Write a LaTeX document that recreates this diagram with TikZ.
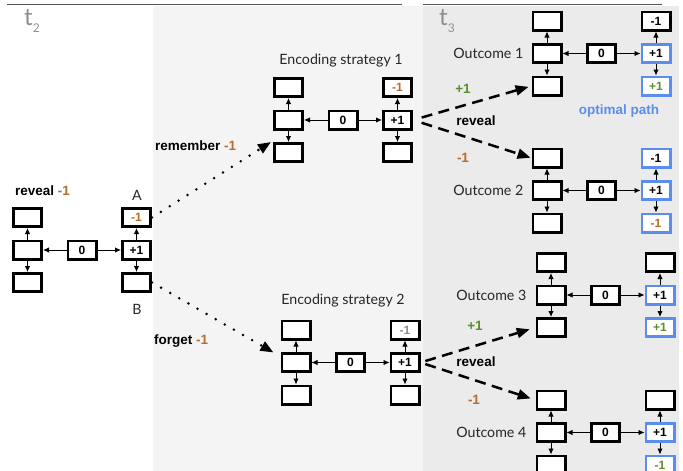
\documentclass[tikz,border=0pt]{standalone}
\usepackage{fontspec}
\setmainfont{Liberation Sans}
\newfontfamily\lightfont{Lato}
\usetikzlibrary{arrows.meta,calc}
\definecolor{orng}{HTML}{B86B2A}
\definecolor{grn}{HTML}{5A8F2A}
\definecolor{blu}{HTML}{5B8DEE}
\definecolor{bgA}{HTML}{F4F4F4}
\definecolor{bgB}{HTML}{EBEBEB}
\definecolor{tgray}{HTML}{8E8E8E}
\definecolor{rule}{HTML}{555555}
\tikzset{
 cell/.style={draw=black, line width=2.7pt, fill=white, minimum width=28.3pt, minimum height=18.3pt, inner sep=0pt, font=\fontsize{12}{12}\selectfont\bfseries},
 bluecell/.style={cell, draw=blu},
 link/.style={line width=0.9pt, -{Latex[length=6pt,width=5.5pt]}},
 bigtip/.style={-{Triangle[length=13pt,width=10pt]}},
 dotline/.style={bigtip, line width=2.8pt, line cap=round, dash pattern=on 0pt off 10.5pt},
 dashline/.style={bigtip, line width=2.5pt, dash pattern=on 11pt off 6.5pt},
 lbl/.style={font=\fontsize{13.5}{13.5}\selectfont\bfseries, inner sep=0pt},
 soft/.style={font=\lightfont\fontsize{14.2}{14.2}\selectfont, text=black!85, inner sep=0pt},
 tlabel/.style={font=\lightfont, text=tgray, inner sep=0pt, anchor=base west},
}
\newcommand{\mygrid}[8]{%
 \node[cell] (#1ml) at (#2,#3) {};
 \node[cell] (#1tl) at (#2,#3-32.5) {};
 \node[cell] (#1bl) at (#2,#3+32.5) {};
 \node[cell] (#1z) at (#2+54.5,#3) {0};
 \node[#6] (#1mr) at (#2+109,#3) {+1};
 \node[#4] (#1tr) at (#2+109,#3-32.5) {#5};
 \node[#7] (#1br) at (#2+109,#3+32.5) {#8};
 \draw[link] (#1z) -- (#1ml);
 \draw[link] (#1z) -- (#1mr);
 \draw[link] (#1ml) -- (#1tl);
 \draw[link] (#1ml) -- (#1bl);
 \draw[link] (#1mr) -- (#1tr);
 \draw[link] (#1mr) -- (#1br);
}
\begin{document}
\begin{tikzpicture}[x=1pt,y=-1pt]
\useasboundingbox (0,0) rectangle (683,471);
\clip (0,0) rectangle (683,471);
% backgrounds
\fill[bgA] (153,6) rectangle (423,471);
\fill[bgB] (423,6) rectangle (679,471);
\draw[rule, line width=1.5pt] (7,4.5) -- (402,4.5);
\draw[rule, line width=1.5pt] (423,4.5) -- (662,4.5);
% time labels
\node[tlabel] (t2) at (24,25) {\fontsize{24}{24}\selectfont t\raisebox{-7.5pt}{\fontsize{12}{12}\selectfont 2}};
\node[tlabel] (t3) at (439,25) {\fontsize{24}{24}\selectfont t\raisebox{-7.5pt}{\fontsize{12}{12}\selectfont 3}};
% grids
\mygrid{L}{27.5}{250}{cell,text=orng}{-1}{cell}{cell}{}
\mygrid{E}{288.5}{120}{cell,text=orng}{-1}{cell}{cell}{}
\mygrid{F}{296}{362.5}{cell,text=black!45}{-1}{cell}{cell}{}
\mygrid{Pa}{547}{53.5}{cell}{-1}{bluecell}{bluecell,text=grn}{+1}
\mygrid{Pb}{547}{190.5}{bluecell}{-1}{bluecell}{bluecell,text=orng}{-1}
\mygrid{Pc}{551}{295}{cell}{}{bluecell}{bluecell,text=grn}{+1}
\mygrid{Pd}{551}{432.5}{cell}{}{bluecell}{bluecell,text=grn}{-1}
% soft labels
\node[soft] (A) at (137,195) {A};
\node[soft] (B) at (137,309) {B};
\node[soft] (es1) at (341,61) {Encoding strategy 1};
\node[soft] (es2) at (343,301) {Encoding strategy 2};
\node[soft, anchor=east] (o1) at ([xshift=-8pt]Paml.west) {Outcome 1};
\node[soft, anchor=east] (o2) at ([xshift=-8pt]Pbml.west) {Outcome 2};
\node[soft, anchor=east] (o3) at ([xshift=-9pt]Pcml.west) {Outcome 3};
\node[soft, anchor=east] (o4) at ([xshift=-9pt]Pdml.west) {Outcome 4};
% bold labels
\node[lbl, anchor=west] (rv0) at (15,191) {reveal \textcolor{orng}{-1}};
\node[lbl, anchor=west] (rem) at (155,146) {remember \textcolor{orng}{-1}};
\node[lbl, anchor=west] (fgt) at (154,341) {forget \textcolor{orng}{-1}};
\node[lbl] (rv1) at (476,121) {reveal};
\node[lbl] (rv2) at (476,362) {reveal};
\node[lbl, text=grn] (p1) at (463,89) {+1};
\node[lbl, text=orng] (m1) at (463,158) {-1};
\node[lbl, text=grn] (p2) at (475,326) {+1};
\node[lbl, text=orng] (m2) at (474,400) {-1};
\node[lbl, text=blu] (opt) at (619,111) {optimal path};
% dotted arrows
\draw[dotline] (Ltr.east) -- ($(Ebl.north west)+(-2,0)$);
\draw[dotline] (Lbr.east) -- ($(Fml.west)+(-7,-10)$);
% dashed arrows
\draw[dashline, shorten <=9pt, shorten >=3pt] (Emr.east) -- (Pabl.west);
\draw[dashline, shorten <=9pt, shorten >=1pt] (Emr.east) -- (Pbtl.west);
\draw[dashline, shorten <=5pt, shorten >=6pt] (Fmr.east) -- (Pcbl.west);
\draw[dashline, shorten <=5pt, shorten >=5pt] (Fmr.east) -- (Pdtl.west);
\end{tikzpicture}
\end{document}
